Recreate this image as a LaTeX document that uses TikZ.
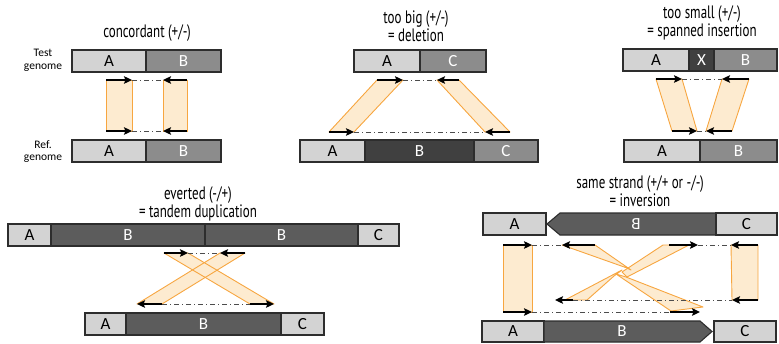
\documentclass[tikz,border=0pt]{standalone}
\usepackage{fontspec}
\usepackage{graphicx}
\setmainfont{Carlito}
\newfontfamily\titlefont[FakeStretch=0.72]{PT Sans}
\usetikzlibrary{arrows.meta}

\definecolor{segLight}{RGB}{211,211,211}
\definecolor{segMid}{RGB}{140,140,140}
\definecolor{segDark}{RGB}{64,64,64}
\definecolor{segDup}{RGB}{92,92,92}
\definecolor{segEdge}{RGB}{45,45,45}
\definecolor{bandFill}{RGB}{253,235,208}
\definecolor{bandLine}{RGB}{247,166,64}

\tikzset{
  seg/.style={draw=segEdge, line width=1.1pt, inner sep=0pt, outer sep=0pt,
    anchor=north west, font=\fontsize{17}{17}\selectfont},
  lightseg/.style={seg, fill=segLight, text=black},
  midseg/.style={seg, fill=segMid, text=white},
  darkseg/.style={seg, fill=segDark, text=white},
  dupseg/.style={seg, fill=segDup, text=white},
  arrowseg/.style={draw=segEdge, line width=1.1pt, fill=segDup, line join=miter},
  seglabel/.style={text=white, font=\fontsize{17}{17}\selectfont, inner sep=0pt},
  readarrow/.style={line width=2.6pt, black,
    -{Stealth[length=8pt,width=7.5pt,inset=1.5pt]}},
  pairline/.style={draw=black!70, line width=0.9pt,
    dash pattern=on 5pt off 3pt on 1pt off 3pt},
  bandfill/.style={fill=bandFill},
  bandline/.style={draw=bandLine, line width=0.9pt, line join=round},
  title/.style={font=\titlefont\fontsize{18}{18}\selectfont, align=center,
    inner sep=0pt},
  side/.style={font=\fontsize{11.5}{12.5}\selectfont, align=center, inner sep=0pt},
}

% read end points: name, tail x, head x, y
\newcommand\readpt[4]{\coordinate (#1t) at (#2,#4); \coordinate (#1h) at (#3,#4);}

% alignment bands joining the two reads of each pair
\newcommand\allbands[1]{%
  \path[#1] (c1t)--(c1h)--(c3h)--(c3t)--cycle;
  \path[#1] (c2h)--(c2t)--(c4t)--(c4h)--cycle;
  \path[#1] (b1t)--(b1h)--(b3h)--(b3t)--cycle;
  \path[#1] (b2h)--(b2t)--(b4t)--(b4h)--cycle;
  \path[#1] (s1t)--(s1h)--(s3h)--(s3t)--cycle;
  \path[#1] (s2h)--(s2t)--(s4t)--(s4h)--cycle;
  \path[#1] (e1t)--(e1h)--(e4h)--(e4t)--cycle;
  \path[#1] (e2h)--(e2t)--(e3t)--(e3h)--cycle;
  \path[#1] (i1t)--(i1h)--(i7h)--(i7t)--cycle;
  \path[#1] (i4h)--(i4t)--(i6t)--(i6h)--cycle;
  \path[#1] (i2h)--(i2t)--(631,270)--(627,268)--cycle;
  \path[#1] (616,274)--(626,277)--(703,307)--(671,311)--cycle;
  \path[#1] (663,245)--(689,245)--(627,277)--(622,272)--cycle;
  \path[#1] (622,270)--(614,276)--(587,300)--(565,300)--cycle;
}

\begin{document}
\begin{tikzpicture}[x=1pt,y=-1pt]
\useasboundingbox (0,0) rectangle (779,343);

% ---------------- titles ----------------
\node[title] (t1) at (147,33) {concordant (+/-)};
\node[title] (t2) at (416,26) {too big (+/-)\\= deletion};
\node[title] (t3) at (702,22.5) {too small (+/-)\\= spanned insertion};
\node[title] (t4) at (198,203.5) {everted (-/+)\\= tandem duplication};
\node[title] (t5) at (640,191.5) {same strand (+/+ or -/-)\\= inversion};

\node[side] (lt) at (43,60.5) {Test\\genome};
\node[side] (lr) at (43,151.5) {Ref.\\genome};

% ---------------- read end points ----------------
% concordant
\readpt{c1}{106}{132}{80}  \readpt{c2}{187}{163}{80}
\readpt{c3}{106}{132}{131} \readpt{c4}{187}{163}{131}
% deletion
\readpt{b1}{377}{403}{80}  \readpt{b2}{459}{437}{80}
\readpt{b3}{329}{354}{132} \readpt{b4}{510}{485}{132}
% insertion
\readpt{s1}{656}{682}{79}  \readpt{s2}{749}{722}{79}
\readpt{s3}{672}{697}{131} \readpt{s4}{732}{706}{131}
% tandem duplication
\readpt{e1}{164}{188}{253} \readpt{e2}{245}{220}{253}
\readpt{e3}{162}{137}{304} \readpt{e4}{250}{274}{304}
% inversion
\readpt{i1}{503}{532}{245} \readpt{i2}{595}{562}{245}
\readpt{i3}{669}{698}{245} \readpt{i4}{758}{731}{245}
\readpt{i5}{573}{555}{300} \readpt{i6}{758}{732}{300}
\readpt{i7}{503}{532}{312} \readpt{i8}{670}{700}{312}

% ---------------- alignment bands ----------------
\allbands{bandfill}
\allbands{bandline}

% ---------------- pair links ----------------
\draw[pairline] (c1h) -- (c2h);
\draw[pairline] (c3h) -- (c4h);
\draw[pairline] (b1h) -- (b2h);
\draw[pairline] (b3h) -- (b4h);
\draw[pairline] (s1h) -- (s2h);
\draw[pairline] (s3h) -- (s4h);
\draw[pairline] (e1h) -- (e2h);
\draw[pairline] (e3t) -- (e4t);
\draw[pairline] (i1h) -- (i2h);
\draw[pairline] (i3h) -- (i4h);
\draw[pairline] (i5t) -- (i6h);
\draw[pairline] (i7h) -- (i8t);

% ---------------- reads ----------------
\foreach \r in {c1,c2,c3,c4,b1,b2,b3,b4,s1,s2,s3,s4,e1,e2,e3,e4,
                i1,i2,i3,i4,i5,i6,i7,i8}
  \draw[readarrow] (\r t) -- (\r h);

% ---------------- genome segments ----------------
% concordant
\node[lightseg, minimum width=74, minimum height=22] (cta) at (72,50) {A};
\node[midseg,   minimum width=75, minimum height=22] (ctb) at (146,50) {B};
\node[lightseg, minimum width=74, minimum height=22] (cra) at (72,140) {A};
\node[midseg,   minimum width=75, minimum height=22] (crb) at (146,140) {B};
% deletion
\node[lightseg, minimum width=66, minimum height=22] (bta) at (354,50) {A};
\node[midseg,   minimum width=66, minimum height=22] (btc) at (420,50) {C};
\node[lightseg, minimum width=65, minimum height=22] (bra) at (300,140) {A};
\node[darkseg,  minimum width=109, minimum height=22] (brb) at (365,140) {B};
\node[midseg,   minimum width=64, minimum height=22] (brc) at (474,140) {C};
% insertion
\node[lightseg, minimum width=66, minimum height=22] (sta) at (623,49) {A};
\node[darkseg,  minimum width=25, minimum height=22] (stx) at (689,49) {X};
\node[midseg,   minimum width=63, minimum height=22] (stb) at (714,49) {B};
\node[lightseg, minimum width=76, minimum height=22] (sra) at (624,140) {A};
\node[midseg,   minimum width=77, minimum height=22] (srb) at (700,140) {B};
% tandem duplication
\node[lightseg, minimum width=43, minimum height=22] (eta) at (8,224) {A};
\node[dupseg,   minimum width=154, minimum height=22] (etb) at (51,224) {B};
\node[dupseg,   minimum width=153, minimum height=22] (etd) at (205,224) {B};
\node[lightseg, minimum width=41, minimum height=22] (etc) at (358,224) {C};
\node[lightseg, minimum width=41, minimum height=22] (era) at (85,313) {A};
\node[dupseg,   minimum width=155, minimum height=22] (erb) at (126,313) {B};
\node[lightseg, minimum width=43, minimum height=22] (erc) at (281,313) {C};
% inversion
\node[lightseg, minimum width=63, minimum height=22] (ita) at (483,213) {A};
\draw[arrowseg] (547,224) -- (560,213) -- (716,213) -- (716,235) -- (560,235) -- cycle;
\node[seglabel] (itb) at (636,224) {\reflectbox{B}};
\node[lightseg, minimum width=61, minimum height=22] (itc) at (716,213) {C};
\node[lightseg, minimum width=62, minimum height=21] (ira) at (482,321) {A};
\draw[arrowseg] (544,321) -- (700,321) -- (712,331.5) -- (700,342) -- (544,342) -- cycle;
\node[seglabel] (irb) at (622,331.5) {B};
\node[lightseg, minimum width=62, minimum height=21] (irc) at (714,321) {C};

\end{tikzpicture}
\end{document}
